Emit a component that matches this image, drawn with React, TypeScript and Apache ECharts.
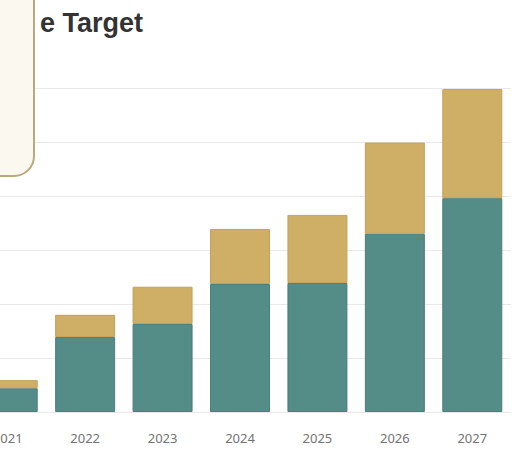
import React, { useEffect, useRef } from "react";
import * as echarts from "echarts";

const categories = ["2021", "2022", "2023", "2024", "2025", "2026", "2027"];
const achieved = [4.4, 13.9, 16.3, 23.7, 23.9, 33.0, 39.6];
const remaining = [1.5, 4.1, 6.9, 10.2, 12.6, 16.9, 20.2];
const titleText = "e Target";

const OFFSET = 31;

export default function App() {
  const ref = useRef<HTMLDivElement>(null);
  useEffect(() => {
    if (!ref.current) return;
    const chart = echarts.init(ref.current, undefined, { renderer: "svg" });
    chart.setOption({
      animation: false,
      backgroundColor: "#ffffff",
      grid: { left: 0, right: 4, top: 88, bottom: 40, containLabel: false },
      xAxis: {
        type: "category",
        data: categories,
        axisLine: { show: false },
        axisTick: { show: false },
        axisLabel: { color: "#737373", fontSize: 13, margin: 19, fontFamily: "Noto Sans" },
      },
      yAxis: {
        type: "value",
        min: 0,
        max: 60,
        interval: 10,
        axisLabel: { show: false },
        axisLine: { show: false },
        axisTick: { show: false },
        splitLine: { lineStyle: { color: "#e9e9e9", width: 1 } },
      },
      series: [
        {
          name: "Achieved",
          type: "bar",
          stack: "total",
          data: achieved,
          barWidth: 60,
          itemStyle: { color: "#548c88", borderColor: "#4a7f7b", borderWidth: 1 },
        },
        {
          name: "Remaining",
          type: "bar",
          stack: "total",
          data: remaining,
          barWidth: 60,
          itemStyle: { color: "#cfae66", borderColor: "#c2a15a", borderWidth: 1 },
        },
      ],
      graphic: [
        {
          type: "text",
          x: OFFSET + 40,
          y: 23,
          z: 10,
          style: {
            text: titleText,
            fill: "#333333",
            font: "bold 27px 'Liberation Sans', Arial, sans-serif",
            textAlign: "left",
            textVerticalAlign: "middle",
          },
        },
        {
          type: "rect",
          z: 20,
          shape: { x: -100, y: -100, width: OFFSET + 134, height: 276, r: 20 },
          style: { fill: "#fbf8ef", stroke: "#b8aa7c", lineWidth: 2 },
        },
      ],
    });
    return () => chart.dispose();
  }, []);
  return (
    <div
      style={{
        position: "fixed",
        left: 0,
        top: 0,
        width: 515,
        height: 452,
        overflow: "hidden",
        background: "#ffffff",
      }}
    >
      <div
        ref={ref}
        style={{ position: "absolute", left: -OFFSET, top: 0, width: 515 + OFFSET, height: 452 }}
      />
    </div>
  );
}
